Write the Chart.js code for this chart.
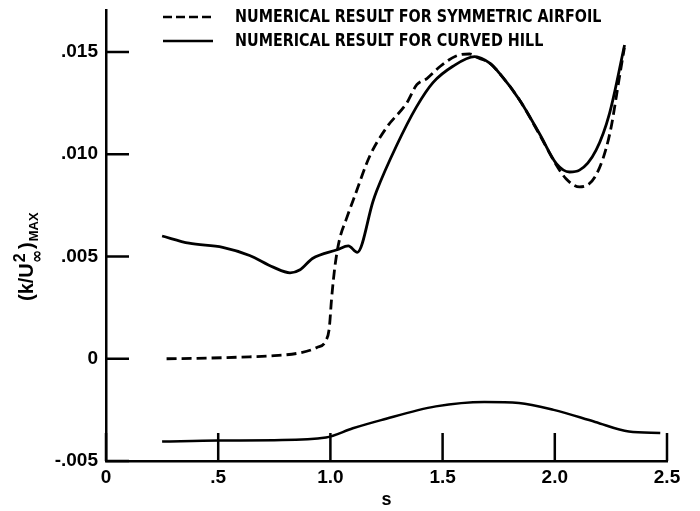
<!DOCTYPE html>
<html>
<head>
<meta charset="utf-8">
<script src="https://cdn.jsdelivr.net/npm/chart.js@4.4.0/dist/chart.umd.min.js"></script>
<style>
  html, body { margin: 0; padding: 0; background: #fff; }
  #wrap { width: 700px; height: 511px; }
</style>
</head>
<body>
<div id="wrap"><canvas id="myChart" width="700" height="511"></canvas></div>
<script>
// symmetric airfoil (dashed)
const airfoilS = [0.27, 0.45, 0.60, 0.75, 0.86, 0.94, 0.98, 0.995, 1.005, 1.02, 1.04, 1.07, 1.11, 1.175, 1.25, 1.34, 1.385, 1.43, 1.49, 1.56, 1.62, 1.66, 1.71, 1.75, 1.84, 1.93, 2.00, 2.05, 2.11, 2.185, 2.245, 2.29, 2.31];
const airfoilK = [0.0000, 0.00003, 0.00008, 0.00015, 0.00028, 0.00055, 0.00088, 0.0015, 0.0029, 0.0045, 0.0058, 0.0068, 0.0080, 0.0099, 0.0113, 0.0125, 0.0134, 0.0137, 0.0143, 0.0148, 0.0149, 0.0147, 0.01445, 0.0140, 0.0127, 0.0110, 0.0096, 0.0088, 0.0084, 0.0090, 0.0110, 0.0139, 0.0152];

// curved hill (solid)
const hillS = [0.25, 0.37, 0.52, 0.64, 0.745, 0.82, 0.865, 0.92, 1.03, 1.08, 1.12, 1.19, 1.206, 1.294, 1.383, 1.457, 1.546, 1.643, 1.71, 1.754, 1.843, 1.932, 2.007, 2.066, 2.11, 2.184, 2.244, 2.311];
const hillK = [0.0060, 0.00565, 0.00545, 0.00505, 0.00448, 0.0042, 0.00435, 0.0049, 0.00533, 0.00552, 0.0052, 0.0077, 0.0082, 0.0104, 0.0123, 0.0135, 0.0143, 0.01477, 0.01445, 0.01395, 0.01265, 0.0110, 0.00954, 0.00913, 0.00922, 0.0102, 0.0120, 0.01534];

// hill shape sketch along the bottom
const shapeS = [0.25, 0.50, 0.75, 0.98, 1.10, 1.226, 1.47, 1.686, 1.84, 1.995, 2.18, 2.33, 2.47];
const shapeY = [-0.00405, -0.00400, -0.00398, -0.00385, -0.0034, -0.0030, -0.00233, -0.00211, -0.00216, -0.0025, -0.00309, -0.00356, -0.00363];

const xTicks = [0, 0.5, 1.0, 1.5, 2.0, 2.5];
const xTickLabels = ['0', '.5', '1.0', '1.5', '2.0', '2.5'];
const yTicks = [-0.005, 0, 0.005, 0.010, 0.015];
const yTickLabels = ['-.005', '0', '.005', '.010', '.015'];

const legendLabels = ['NUMERICAL RESULT FOR SYMMETRIC AIRFOIL', 'NUMERICAL RESULT FOR CURVED HILL'];

const toXY = (xs, ys) => xs.map((x, i) => ({ x: x, y: ys[i] }));

// ticks drawn inward from the axes
const innerTicks = {
    id: 'innerTicks',
    afterDatasetsDraw(chart) {
        const ctx = chart.ctx;
        const xs = chart.scales.x, ys = chart.scales.y;
        const area = chart.chartArea;
        ctx.save();
        ctx.strokeStyle = '#000';
        ctx.lineWidth = 2.5;
        ctx.beginPath();
        xs.ticks.forEach(t => {
            const px = xs.getPixelForValue(t.value);
            ctx.moveTo(px, area.bottom);
            ctx.lineTo(px, area.bottom - 28);
        });
        ys.ticks.forEach(t => {
            const py = ys.getPixelForValue(t.value);
            ctx.moveTo(area.left, py);
            ctx.lineTo(area.left + 23, py);
        });
        ctx.stroke();
        ctx.restore();
    }
};

// legend block in the top of the plot
const topLegend = {
    id: 'topLegend',
    afterDraw(chart) {
        const ctx = chart.ctx;
        ctx.save();
        ctx.textBaseline = 'middle';
        ctx.fillStyle = '#000';
        const rows = [17, 41];
        chart.data.datasets.slice(0, 2).forEach((ds, i) => {
            ctx.strokeStyle = '#000';
            ctx.lineWidth = 2.5;
            ctx.setLineDash(ds.borderDash ? [9, 4] : []);
            ctx.beginPath();
            ctx.moveTo(163, rows[i]);
            ctx.lineTo(213, rows[i]);
            ctx.stroke();
            ctx.setLineDash([]);
            ctx.save();
            ctx.translate(235, rows[i]);
            ctx.scale(0.885, 1);
            ctx.font = 'bold 18px "Liberation Sans Narrow", "DejaVu Sans Condensed", sans-serif';
            ctx.fillText(ds.label, 0, 0);
            ctx.restore();
        });
        ctx.restore();
    }
};

// rotated y-axis title (k/U∞²)MAX
const yTitle = {
    id: 'yTitle',
    afterDraw(chart) {
        const ctx = chart.ctx;
        ctx.save();
        ctx.translate(33, 301);
        ctx.rotate(-Math.PI / 2);
        ctx.fillStyle = '#000';
        ctx.textBaseline = 'alphabetic';
        ctx.font = 'bold 20px "Liberation Sans", Arial, sans-serif';
        const main = '(k/U';
        ctx.fillText(main, 0, 0);
        let x = ctx.measureText(main).width + 1;
        ctx.font = 'bold 16px "Liberation Sans", Arial, sans-serif';
        ctx.fillText('2', x, -8);
        const w2 = ctx.measureText('2').width;
        ctx.font = 'bold 16px "DejaVu Sans", sans-serif';
        ctx.fillText('\u221E', x - 1, 9);
        const w3 = ctx.measureText('\u221E').width;
        x += Math.max(w2, w3);
        ctx.font = 'bold 20px "Liberation Sans", Arial, sans-serif';
        ctx.fillText(')', x, 0);
        x += ctx.measureText(')').width + 1;
        ctx.font = 'bold 13px "Liberation Sans", Arial, sans-serif';
        ctx.fillText('MAX', x, 5);
        ctx.restore();
    }
};

const tickFont = { family: '"Liberation Sans", Arial, sans-serif', size: 19, weight: 'bold' };

const ctx = document.getElementById('myChart').getContext('2d');
const myChart = new Chart(ctx, {
    type: 'line',
    data: {
        datasets: [{
            label: legendLabels[0],
            data: toXY(airfoilS, airfoilK),
            borderColor: '#000',
            borderWidth: 2.8,
            borderDash: [10, 5],
            cubicInterpolationMode: 'monotone',
            pointRadius: 0
        }, {
            label: legendLabels[1],
            data: toXY(hillS, hillK),
            borderColor: '#000',
            borderWidth: 2.8,
            cubicInterpolationMode: 'monotone',
            pointRadius: 0
        }, {
            label: 'hill',
            data: toXY(shapeS, shapeY),
            borderColor: '#000',
            borderWidth: 2.5,
            cubicInterpolationMode: 'monotone',
            pointRadius: 0
        }]
    },
    options: {
        responsive: false,
        animation: false,
        layout: { padding: { top: 10, right: 33, bottom: 0, left: 0 } },
        plugins: {
            legend: { display: false },
            tooltip: { enabled: false }
        },
        scales: {
            x: {
                type: 'linear',
                min: 0,
                max: 2.5,
                grid: { display: false, drawTicks: false, tickLength: 0 },
                border: { display: true, color: '#000', width: 2.5 },
                afterBuildTicks: s => { s.ticks = xTicks.map(v => ({ value: v })); },
                afterFit: s => { s.height = 50; s.paddingLeft = 0; s.paddingRight = 0; },
                ticks: {
                    color: '#000',
                    padding: 5,
                    maxRotation: 0,
                    font: tickFont,
                    callback: (v, i) => xTickLabels[i]
                },
                title: {
                    display: true,
                    text: 's',
                    color: '#000',
                    padding: { top: 0, bottom: 0 },
                    font: { family: '"Liberation Sans", Arial, sans-serif', size: 18, weight: 'bold' }
                }
            },
            y: {
                type: 'linear',
                min: -0.005,
                max: 0.01705,
                grid: { display: false, drawTicks: false, tickLength: 0 },
                border: { display: true, color: '#000', width: 2.5 },
                afterBuildTicks: s => { s.ticks = yTicks.map(v => ({ value: v })); },
                afterFit: s => { s.width = 106; s.paddingTop = 0; s.paddingBottom = 0; },
                ticks: {
                    color: '#000',
                    padding: 8,
                    font: tickFont,
                    callback: (v, i) => yTickLabels[i]
                }
            }
        }
    },
    plugins: [innerTicks, topLegend, yTitle]
});
</script>
</body>
</html>
